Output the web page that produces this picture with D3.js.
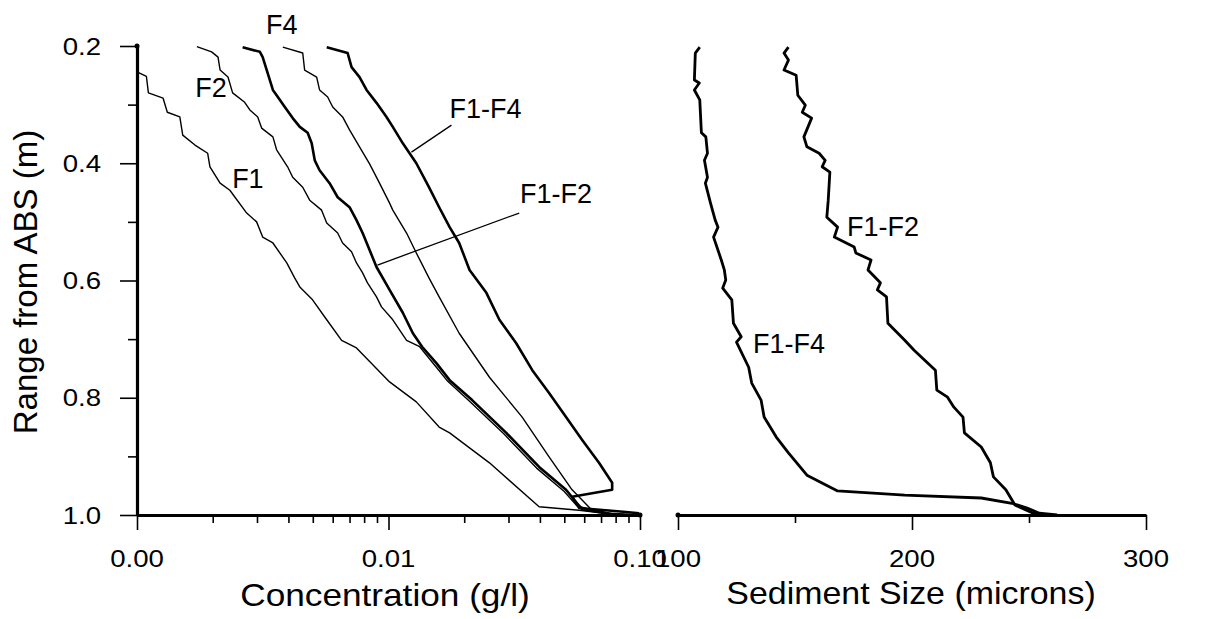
<!DOCTYPE html>
<html><head><meta charset="utf-8">
<script src="https://cdn.jsdelivr.net/npm/d3@7/dist/d3.min.js"></script>
<style>body{margin:0;background:#fff}svg{display:block}text{font-family:"Liberation Sans",Arial,sans-serif;fill:#000}</style>
</head><body><svg id="c" width="1217" height="619"></svg>
<script>
// ---------- data ----------
const rangeTicks = [0.2, 0.4, 0.6, 0.8, 1.0];
const rangeMinor = [0.3, 0.5, 0.7, 0.9];
const concTicks = [0.001, 0.01, 0.1];
const concMinor = [0.002,0.003,0.004,0.005,0.006,0.007,0.008,0.009,0.02,0.03,0.04,0.05,0.06,0.07,0.08,0.09];
const sizeTicks = [100, 200, 300];
const sizeMinor = [150, 250];

// Concentration (g/l), Range (m)
const F1 = [[0.00100,0.244],[0.00109,0.252],[0.00111,0.280],[0.00127,0.289],[0.00132,0.313],[0.00148,0.321],[0.00152,0.352],[0.00170,0.369],[0.00191,0.383],[0.00195,0.406],[0.00214,0.434],[0.00234,0.446],[0.00273,0.485],[0.00299,0.500],[0.00316,0.526],[0.00347,0.536],[0.00394,0.570],[0.00424,0.596],[0.00444,0.611],[0.00499,0.633],[0.00568,0.667],[0.00651,0.702],[0.00746,0.715],[0.0101,0.773],[0.0129,0.807],[0.0159,0.850],[0.0175,0.860],[0.0252,0.911],[0.0397,0.986],[0.0573,0.992],[0.075,0.998],[0.090,1.0]];
const F2 = [[0.00173,0.201],[0.00198,0.210],[0.00210,0.219],[0.00214,0.241],[0.00230,0.253],[0.00240,0.280],[0.00268,0.296],[0.00281,0.309],[0.00302,0.321],[0.00313,0.340],[0.00347,0.355],[0.00359,0.377],[0.00397,0.406],[0.00416,0.424],[0.00456,0.441],[0.00486,0.463],[0.00542,0.480],[0.00568,0.502],[0.00628,0.519],[0.00657,0.536],[0.00713,0.551],[0.00746,0.570],[0.00789,0.587],[0.00825,0.604],[0.00896,0.628],[0.00938,0.645],[0.0104,0.667],[0.0118,0.702],[0.0133,0.713],[0.0155,0.748],[0.0172,0.772],[0.0210,0.806],[0.0288,0.862],[0.0388,0.920],[0.0500,0.960],[0.0560,0.984],[0.070,0.996],[0.090,1.0]];
const F1F2 = [[0.00263,0.202],[0.00308,0.210],[0.00316,0.219],[0.00328,0.241],[0.00347,0.275],[0.00359,0.284],[0.00387,0.304],[0.00416,0.323],[0.00444,0.338],[0.00477,0.348],[0.00495,0.366],[0.00509,0.395],[0.00532,0.412],[0.00583,0.434],[0.00628,0.458],[0.0070,0.475],[0.00746,0.497],[0.00789,0.519],[0.00841,0.548],[0.00896,0.577],[0.0101,0.616],[0.0114,0.655],[0.0125,0.690],[0.0136,0.713],[0.0155,0.741],[0.0175,0.770],[0.0215,0.804],[0.0294,0.860],[0.0397,0.918],[0.0508,0.957],[0.0562,0.980],[0.0589,0.990],[0.075,0.998],[0.095,1.0]];
const F4 = [[0.00380,0.202],[0.00456,0.212],[0.00464,0.241],[0.00518,0.253],[0.00532,0.275],[0.00573,0.287],[0.00600,0.304],[0.00657,0.321],[0.00700,0.343],[0.00767,0.372],[0.00841,0.401],[0.00921,0.434],[0.0101,0.468],[0.0104,0.480],[0.0118,0.519],[0.0129,0.553],[0.0145,0.596],[0.0159,0.628],[0.0191,0.690],[0.0252,0.765],[0.0340,0.833],[0.0435,0.901],[0.0537,0.957],[0.0639,0.990],[0.080,0.999],[0.095,1.0]];
const F1F4 = [[0.00568,0.202],[0.00688,0.212],[0.00713,0.236],[0.00767,0.253],[0.00818,0.275],[0.00896,0.297],[0.00982,0.321],[0.0104,0.338],[0.0114,0.366],[0.0129,0.400],[0.0145,0.441],[0.0159,0.475],[0.0175,0.509],[0.0191,0.536],[0.0210,0.582],[0.0245,0.621],[0.0276,0.667],[0.0322,0.707],[0.0373,0.753],[0.0435,0.792],[0.0508,0.833],[0.0589,0.872],[0.0687,0.911],[0.0775,0.945],[0.0775,0.957],[0.0537,0.969],[0.0573,0.988],[0.0880,0.995],[0.0991,0.997]];

// Sediment size (microns), Range (m)
const S_F1F4 = [[109.3,0.202],[107.4,0.212],[107.0,0.258],[109.1,0.263],[107.0,0.275],[109.3,0.292],[110.0,0.348],[111.9,0.355],[112.6,0.383],[111.3,0.395],[112.6,0.424],[111.7,0.434],[113.9,0.468],[115.9,0.497],[117.1,0.509],[115.2,0.526],[118.5,0.565],[119.8,0.582],[120.4,0.599],[119.1,0.613],[123.0,0.633],[123.7,0.673],[127.0,0.696],[125.0,0.705],[130.2,0.748],[131.5,0.775],[135.5,0.804],[136.8,0.833],[142.0,0.867],[147.2,0.894],[155.1,0.932],[168.2,0.959],[196.9,0.966],[229.6,0.971],[242.7,0.980],[249.2,0.988],[254.4,0.997],[262.0,1.0]];
const S_F1F2 = [[147.2,0.202],[145.3,0.212],[147.2,0.224],[145.3,0.241],[150.5,0.250],[151.2,0.284],[154.4,0.301],[153.1,0.313],[157.1,0.323],[153.8,0.355],[155.1,0.372],[160.3,0.383],[162.9,0.395],[161.6,0.406],[164.9,0.415],[164.2,0.463],[163.6,0.492],[168.2,0.509],[166.8,0.526],[175.3,0.543],[176.0,0.553],[182.5,0.565],[181.2,0.582],[186.5,0.604],[185.2,0.616],[189.1,0.628],[189.7,0.673],[196.9,0.702],[200.9,0.719],[210.0,0.753],[210.6,0.787],[215.2,0.799],[217.9,0.816],[221.8,0.833],[222.4,0.860],[229.6,0.884],[233.5,0.911],[234.8,0.935],[240.1,0.957],[244.0,0.983],[251.8,0.997],[255.8,1.0]];

// labels: [text, x, range]
const concLabels = [["F4",0.00376,0.1625],["F2",0.00197,0.270],["F1",0.00276,0.425],["F1-F4",0.0243,0.3058],["F1-F2",0.0464,0.4507]];
const concPointers = [[[0.0178,0.335],[0.01234,0.381]],[[0.0331,0.4849],[0.00904,0.5736]]];
const sizeLabels = [["F1-F2",187.6,0.507],["F1-F4",147.4,0.7066]];

// ---------- drawing ----------
const svg = d3.select("#c");
const y = d3.scaleLinear().domain([0.2, 1.0]).range([46, 515]);
const xL = d3.scaleLog().domain([0.001, 0.1]).range([137, 640]);
const xR = d3.scaleLinear().domain([100, 300]).range([678, 1146]);
const SX = 1.15;

function styleAxis(g, w) {
  g.select(".domain").attr("stroke", "#000").attr("stroke-width", w);
  g.selectAll(".tick line").attr("stroke", "#000").attr("stroke-width", 1.6);
  g.selectAll(".tick text").remove();
}
// left y axis
svg.append("g").attr("transform","translate(137,0)")
  .call(d3.axisLeft(y).tickValues(rangeTicks).tickSize(17).tickSizeOuter(0)).call(g=>styleAxis(g,3.2));
svg.append("g").attr("transform","translate(137,0)")
  .call(d3.axisLeft(y).tickValues(rangeMinor).tickSize(9).tickSizeOuter(0)).call(g=>{styleAxis(g,0);g.select(".domain").remove();});
// left x axis
svg.append("g").attr("transform","translate(0,515)")
  .call(d3.axisBottom(xL).tickValues(concTicks).tickSize(15).tickSizeOuter(0)).call(g=>styleAxis(g,3.2));
svg.append("g").attr("transform","translate(0,515)")
  .call(d3.axisBottom(xL).tickValues(concMinor).tickSize(8).tickSizeOuter(0)).call(g=>{styleAxis(g,0);g.select(".domain").remove();});
// right x axis
svg.append("g").attr("transform","translate(0,515)")
  .call(d3.axisBottom(xR).tickValues(sizeTicks).tickSize(15).tickSizeOuter(0)).call(g=>styleAxis(g,3.2));
svg.append("g").attr("transform","translate(0,515)")
  .call(d3.axisBottom(xR).tickValues(sizeMinor).tickSize(8).tickSizeOuter(0)).call(g=>{styleAxis(g,0);g.select(".domain").remove();});

// axis end dots
svg.append("circle").attr("cx",xL(0.001)).attr("cy",y(0.2)).attr("r",2.5);
svg.append("circle").attr("cx",xL(0.1)).attr("cy",y(1.0)).attr("r",2.5);
svg.append("circle").attr("cx",xR(100)).attr("cy",y(1.0)).attr("r",2.5);

// tick labels
const fmtR = d3.format(".1f"), fmtC = d3.format(".2f"), fmtS = d3.format("d");
svg.append("g").selectAll("text").data(rangeTicks).join("text")
  .attr("transform", d=>`translate(101,${y(d)}) scale(${SX},1)`).attr("dy","0.36em")
  .attr("text-anchor","end").attr("font-size",24).text(fmtR);
svg.append("g").selectAll("text").data(concTicks).join("text")
  .attr("transform", d=>`translate(${xL(d)},567) scale(${SX},1)`)
  .attr("text-anchor","middle").attr("font-size",24).text(fmtC);
svg.append("g").selectAll("text").data(sizeTicks).join("text")
  .attr("transform", d=>`translate(${xR(d)},567) scale(${SX},1)`)
  .attr("text-anchor","middle").attr("font-size",24).text(fmtS);

// titles
svg.append("text").attr("transform",`translate(385,606) scale(1.1,1)`).attr("text-anchor","middle")
  .attr("font-size",32).text("Concentration (g/l)");
svg.append("text").attr("transform",`translate(911,604) scale(1.06,1)`).attr("text-anchor","middle")
  .attr("font-size",32).text("Sediment Size (microns)");
svg.append("text").attr("transform",`translate(37,282) rotate(-90)`).attr("text-anchor","middle")
  .attr("font-size",33).text("Range from ABS (m)");

// curves
const lineL = d3.line().x(d=>xL(d[0])).y(d=>y(d[1]));
const lineR = d3.line().x(d=>xR(d[0])).y(d=>y(d[1]));
const concSeries = [[F1,1.4],[F2,1.4],[F4,1.4],[F1F2,2.6],[F1F4,2.6]];
svg.append("g").selectAll("path").data(concSeries).join("path")
  .attr("d", d=>lineL(d[0])).attr("fill","none").attr("stroke","#000")
  .attr("stroke-width", d=>d[1]).attr("stroke-linejoin","round");
svg.append("g").selectAll("path").data([S_F1F4,S_F1F2]).join("path")
  .attr("d", d=>lineR(d)).attr("fill","none").attr("stroke","#000")
  .attr("stroke-width", 2.8).attr("stroke-linejoin","round");

// pointers & labels
svg.append("g").selectAll("line").data(concPointers).join("line")
  .attr("x1",d=>xL(d[0][0])).attr("y1",d=>y(d[0][1]))
  .attr("x2",d=>xL(d[1][0])).attr("y2",d=>y(d[1][1]))
  .attr("stroke","#000").attr("stroke-width",1.3);
svg.append("g").selectAll("text").data(concLabels).join("text")
  .attr("x",d=>xL(d[1])).attr("y",d=>y(d[2])).attr("dy","0.36em")
  .attr("text-anchor","middle").attr("font-size",27).text(d=>d[0]);
svg.append("g").selectAll("text").data(sizeLabels).join("text")
  .attr("x",d=>xR(d[1])).attr("y",d=>y(d[2])).attr("dy","0.36em")
  .attr("text-anchor","middle").attr("font-size",27).text(d=>d[0]);
</script>
</body></html>
